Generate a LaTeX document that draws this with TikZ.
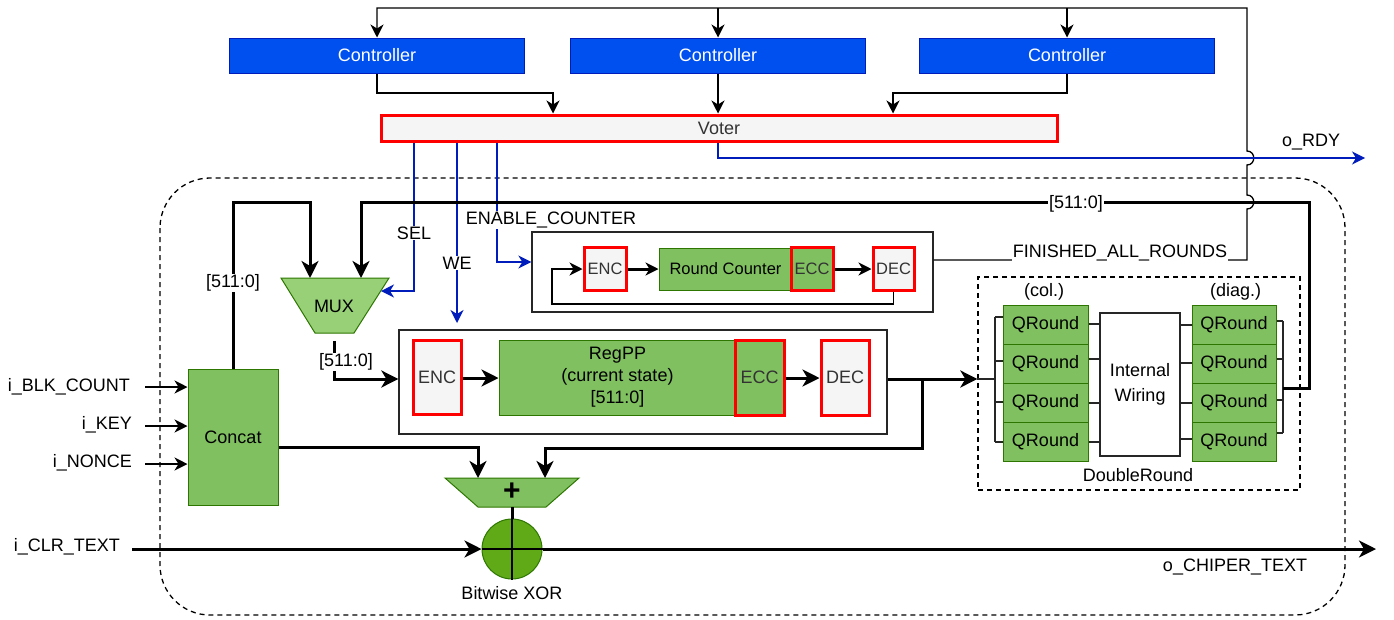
\documentclass[tikz,border=0pt]{standalone}
\usepackage{fontspec}
\setmainfont{Liberation Sans}
\usetikzlibrary{arrows.meta,calc}
\definecolor{ctrlfill}{HTML}{0050EF}
\definecolor{ctrldraw}{HTML}{001DBC}
\definecolor{voterfill}{HTML}{F5F5F5}
\definecolor{grn}{HTML}{80C060}
\definecolor{grndraw}{HTML}{2D7600}
\definecolor{muxfill}{HTML}{97D077}
\definecolor{xorfill}{HTML}{60A917}
\definecolor{sigblue}{HTML}{001DBC}
\definecolor{txtgrey}{HTML}{333333}
\newcommand{\myfont}{\fontsize{18}{22}\selectfont}
\newcommand{\smfont}{\fontsize{16.5}{19}\selectfont}
\tikzset{
  base/.style={rectangle, inner sep=0pt, font=\myfont, align=center},
  ctrl/.style={base, draw=ctrldraw, fill=ctrlfill, text=white, line width=1pt, minimum width=295pt, minimum height=35pt},
  voter/.style={base, draw=red, fill=voterfill, line width=3pt, text=txtgrey, minimum width=676pt, minimum height=26pt},
  codec/.style={base, draw=red, fill=voterfill, line width=3pt, text=txtgrey},
  eccbox/.style={base, draw=red, fill=grn, line width=3pt, text=txtgrey},
  gbox/.style={base, draw=grndraw, fill=grn, line width=1pt},
  qr/.style={gbox, minimum width=85pt, minimum height=39pt},
  frame/.style={base, draw=black!85, line width=1.3pt},
  lbl/.style={font=\myfont, inner sep=1pt},
  wlbl/.style={lbl, fill=white},
  bus/.style={line width=3pt},
  busarrow/.style={bus, -{Stealth[length=17pt,width=17pt,inset=5pt]}},
  smallbusarrow/.style={bus, -{Stealth[length=13pt,width=13pt,inset=4pt]}},
  wire/.style={line width=1.3pt},
  wirearrow/.style={wire, -{Stealth[length=13pt,width=13pt,inset=4pt]}},
  sig/.style={wirearrow, draw=sigblue},
  drwire/.style={line width=1.5pt, draw=black!85},
  dashbox/.style={dash pattern=on 5pt off 4pt, line width=1.3pt},
}
\begin{document}
\begin{tikzpicture}[x=1pt,y=-1pt]
\useasboundingbox (0,0) rectangle (1394,619);

% outer dashed region
\draw[dashbox, rounded corners=50pt] (160,178) rectangle (1345,615);

% controllers and voter
\node[ctrl] (c1) at (377,55.5) {Controller};
\node[ctrl] (c2) at (718,55.5) {Controller};
\node[ctrl] (c3) at (1067,55.5) {Controller};
\node[voter] (vot) at (719,128) {Voter};

% round counter block
\node[frame, minimum width=401pt, minimum height=80pt] (rcf) at (732.5,272) {};
\node[codec, font=\smfont, minimum width=42pt, minimum height=43pt] (enc2) at (605,268.5) {ENC};
\node[gbox, font=\smfont, minimum width=133pt, minimum height=42pt] (rc) at (725.5,269) {Round Counter};
\node[eccbox, font=\smfont, minimum width=42pt, minimum height=43pt] (ecc2) at (812,268.5) {ECC};
\node[codec, font=\smfont, minimum width=41pt, minimum height=43pt] (dec2) at (893.5,268.5) {DEC};

% RegPP block
\node[frame, minimum width=488pt, minimum height=104pt] (rpf) at (643,382) {};
\node[codec, minimum width=48pt, minimum height=74pt] (enc1) at (437,377) {ENC};
\node[gbox, minimum width=237pt, minimum height=75pt] (reg) at (617.5,377.5) {RegPP\\(current state)\\{[511:0]}};
\node[eccbox, minimum width=49pt, minimum height=75pt] (ecc1) at (759.5,377.5) {ECC};
\node[codec, minimum width=48pt, minimum height=75pt] (dec1) at (845,377.5) {DEC};

% Concat
\node[gbox, minimum width=90pt, minimum height=136pt] (cat) at (233,437) {Concat};

% MUX
\coordinate (mtl) at (281,278);
\coordinate (mtr) at (389,278);
\coordinate (mbr) at (354,333);
\coordinate (mbl) at (315,333);
\draw[draw=grndraw, fill=muxfill, line width=1pt] (mtl) -- (mtr) -- (mbr) -- (mbl) -- cycle;
\node[lbl] (mux) at (334,306) {MUX};
\coordinate (muxin1) at (310,278);
\coordinate (muxin2) at (361,278);
\coordinate (muxsel) at (381,291);
\coordinate (muxout) at (334,341);

% adder
\coordinate (atl) at (445,478);
\coordinate (atr) at (579,478);
\coordinate (abr) at (546,507);
\coordinate (abl) at (478,507);
\draw[draw=grndraw, fill=grn, line width=1pt] (atl) -- (atr) -- (abr) -- (abl) -- cycle;
\node[inner sep=0pt] (add) at (512,492) {\fontsize{30}{30}\selectfont\bfseries +};
\coordinate (addin1) at (478,478);
\coordinate (addin2) at (545,478);
\coordinate (addout) at (512,507);

% XOR
\node[circle, draw=grndraw, fill=xorfill, minimum size=60pt, inner sep=0pt, line width=1pt] (xor) at (512,549) {};
\draw[line width=2pt] (xor.north) -- (xor.south);
\draw[line width=2pt] (xor.west) -- (xor.east);
\node[lbl] (xorl) at (512,593) {Bitwise XOR};

% DoubleRound
\node[dashbox, draw, minimum width=322pt, minimum height=213pt, inner sep=0pt] (dr) at (1139,383.5) {};
\node[lbl] (coll) at (1044,292) {(col.)};
\node[lbl] (diagl) at (1235.5,292) {(diag.)};
\node[lbl] (drl) at (1138,475) {DoubleRound};
\foreach \n/\y in {1/324.5,2/363.5,3/402.5,4/441.5}{
  \node[qr] (qc\n) at (1045.5,\y) {QRound};
  \node[qr, minimum width=84pt] (qd\n) at (1234,\y) {QRound};
}
\node[base, draw=black!85, line width=1.3pt, fill=white, minimum width=80pt, minimum height=143pt, font=\fontsize{18}{25}\selectfont] (iw) at (1140,384.5) {Internal\\Wiring};
\coordinate (lb) at (995,379);
\coordinate (rb) at (1283,388);
\draw[drwire] (dr.west |- lb) -- (lb);
\draw[drwire] (995,317) -- (995,442);
\foreach \n/\y in {1/317,2/361,3/402,4/442}{\draw[drwire] (995,\y) -- (qc\n.west |- 0,\y);}
\foreach \n/\y in {1/324,2/359,3/403,4/442}{\draw[drwire] (qc\n.east |- 0,\y) -- (iw.west |- 0,\y);}
\foreach \n/\y in {1/325,2/363,3/403,4/439}{\draw[drwire] (iw.east |- 0,\y) -- (qd\n.west |- 0,\y);}
\foreach \n/\y in {1/321,2/359,3/400,4/433}{\draw[drwire] (qd\n.east |- 0,\y) -- (1283,\y);}
\draw[drwire] (1283,321) -- (1283,433);

% controller connections
\draw[wirearrow] (rcf.east |- 0,260) -- (1247,260) -- (1247,209)
   .. controls (1256,209) and (1256,195) .. (1247,195) -- (1247,165)
   .. controls (1256,165) and (1256,151) .. (1247,151) -- (1247,8) -- (377,8) -- (c1.north);
\draw[wirearrow] (718,8) -- (c2.north);
\draw[wirearrow] (1067,8) -- (c3.north);
\draw[wirearrow] (c1.south) -- (377,93) -- (553,93) -- (vot.north -| 553,0);
\draw[wirearrow] (c2.south) -- (vot.north -| 718,0);
\draw[wirearrow] (c3.south) -- (1067,93) -- (893,93) -- (vot.north -| 893,0);

% voter signals
\draw[sig] (vot.south -| 414,0) -- (414,291) -- (muxsel);
\draw[sig] (vot.south -| 457,0) -- (457,323);
\draw[sig] (vot.south -| 497,0) -- (497,262) -- (rcf.west |- 0,262);
\draw[sig] (vot.south -| 718,0) -- (718,158) -- (1365,158);
\node[lbl] (rdy) at (1311,142) {o\_RDY};

% feedback bus
\draw[busarrow] (rb) -- (1309,388) -- (1309,202) -- (361,202) -- (muxin2);

% inputs
\node[lbl, anchor=east] (iblk) at (131,387) {i\_BLK\_COUNT};
\node[lbl, anchor=east] (ikey) at (133,425) {i\_KEY};
\node[lbl, anchor=east] (inon) at (133,463) {i\_NONCE};
\node[lbl, anchor=east] (iclr) at (121,547) {i\_CLR\_TEXT};
\draw[wirearrow] (145,387) -- (cat.west |- 0,387);
\draw[wirearrow] (145,426) -- (cat.west |- 0,426);
\draw[wirearrow] (145,464) -- (cat.west |- 0,464);
\draw[busarrow] (132,549) -- (xor.west);

% concat outputs
\draw[busarrow] (cat.north) -- (233,202) -- (310,202) -- (muxin1);
\draw[busarrow] (cat.east |- 0,447) -- (478,447) -- (addin1);

% mux output
\draw[busarrow] (muxout) -- (334,379) -- (rpf.west |- 0,379);

% RegPP internal
\draw[busarrow] (enc1.east |- 0,378) -- (reg.west |- 0,378);
\draw[busarrow] (ecc1.east |- 0,378) -- (dec1.west |- 0,378);
\draw[busarrow] (rpf.east |- 0,379) -- (dr.west |- 0,379);
\draw[busarrow] (922,379) -- (922,448) -- (545,448) -- (addin2);

% round counter internal
\draw[smallbusarrow] (enc2.east |- 0,269) -- (rc.west |- 0,269);
\draw[smallbusarrow] (ecc2.east |- 0,269) -- (dec2.west |- 0,269);
\draw[wirearrow] (dec2.south) -- (893.5,304) -- (552,304) -- (552,269) -- (enc2.west |- 0,269);

% adder to XOR and output
\draw[bus] (addout) -- (xor.north);
\draw[busarrow] (xor.east) -- (1376,0 |- xor.east);
\node[lbl] (ctext) at (1235,567) {o\_CHIPER\_TEXT};

% labels on lines
\node[wlbl] (l511a) at (233,283) {[511:0]};
\node[wlbl] (l511b) at (346,362) {[511:0]};
\node[wlbl] (l511c) at (1076,204) {[511:0]};
\node[wlbl] (lsel) at (414,233) {SEL};
\node[wlbl] (lwe) at (457,263) {WE};
\node[wlbl] (len) at (551,220) {ENABLE\_COUNTER};
\node[wlbl] (fin) at (1120,253) {FINISHED\_ALL\_ROUNDS};
\end{tikzpicture}
\end{document}
